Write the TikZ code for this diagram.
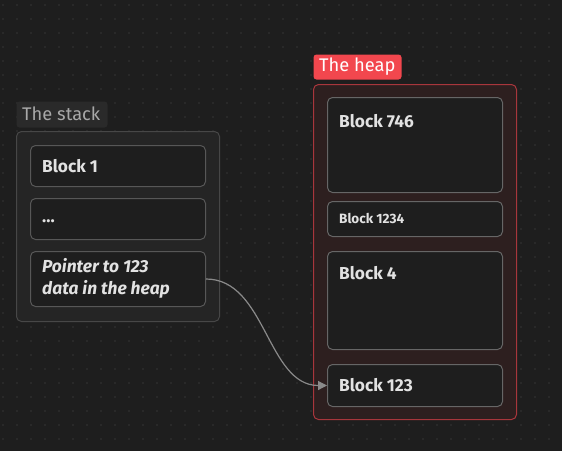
\documentclass[tikz,border=0pt]{standalone}
\usepackage{fontspec}
\setmainfont{Fira Sans}
\usetikzlibrary{arrows.meta}
\definecolor{bgc}{HTML}{1E1E1E}
\definecolor{dotc}{HTML}{363636}
\definecolor{stitlefill}{HTML}{2A2A2A}
\definecolor{stitletext}{HTML}{A8A8A8}
\definecolor{sfill}{HTML}{252525}
\definecolor{sborder}{HTML}{474747}
\definecolor{blkfill}{HTML}{1E1E1E}
\definecolor{blkborder}{HTML}{575757}
\definecolor{hblkborder}{HTML}{666666}
\definecolor{blktext}{HTML}{E2E2E2}
\definecolor{htitlefill}{HTML}{F2474E}
\definecolor{hfill}{HTML}{2D1F1F}
\definecolor{hborder}{HTML}{A8363C}
\definecolor{arrc}{HTML}{8A8A8A}
\tikzset{
  box/.style={anchor=north west, inner sep=0pt, rounded corners=5pt, line width=1pt},
  blk/.style={box, draw=blkborder, fill=blkfill, minimum width=175pt},
  hblk/.style={blk, draw=hblkborder},
  lbl/.style={anchor=west, inner sep=0pt, text=blktext, font=\fontsize{17.3}{20}\selectfont\bfseries},
  smalllbl/.style={lbl, font=\fontsize{13.5}{16}\selectfont\bfseries},
  conn/.style={draw=arrc, line width=1.2pt, -{Triangle[length=9pt,width=9pt]}},
}
\begin{document}
\begin{tikzpicture}[x=1pt,y=-1pt]
\useasboundingbox (0,0) rectangle (562,451);
\fill[bgc] (0,0) rectangle (562,451);
\foreach \i in {0,...,40} {
  \foreach \j in {0,...,32} {
    \fill[dotc] (3+\i*14,5+\j*14) circle (0.8pt);
  }
}
% stack
\node[box, fill=stitlefill, rounded corners=3pt, minimum width=91pt, minimum height=26pt] (stitle) at (16,101) {};
\node[anchor=west, inner sep=0pt, text=stitletext, font=\fontsize{18.3}{21}\selectfont] (stitletxt) at (22,114) {The stack};
\node[box, draw=sborder, fill=sfill, minimum width=203pt, minimum height=190pt] (stack) at (16,131) {};
\node[blk, minimum height=41pt] (b1) at (30,145) {};
\node[lbl] (b1t) at (42,166) {Block 1};
\node[blk, minimum height=41pt] (dots) at (30,198) {};
\node[lbl] (dotst) at (42,221) {...};
\node[blk, minimum height=55pt] (ptr) at (30,251) {};
\node[lbl, anchor=north west, align=left, font=\fontsize{17.4}{22}\selectfont\bfseries\itshape] (ptrt) at (42,258) {Pointer to 123\\data in the heap};
% heap
\node[box, fill=htitlefill, rounded corners=3pt, minimum width=88pt, minimum height=25pt] (htitle) at (313,54) {};
\node[anchor=west, inner sep=0pt, text=white, font=\fontsize{18.3}{21}\selectfont] (htitletxt) at (319,67) {The heap};
\node[box, draw=hborder, fill=hfill, minimum width=203pt, minimum height=335pt] (heap) at (313,84) {};
\node[hblk, minimum height=95pt] (b746) at (327,97) {};
\node[lbl] (b746t) at (339,121) {Block 746};
\node[hblk, minimum height=35pt] (b1234) at (327,201) {};
\node[smalllbl] (b1234t) at (339,218.5) {Block 1234};
\node[hblk, minimum height=98pt] (b4) at (327,251) {};
\node[lbl] (b4t) at (339,273) {Block 4};
\node[hblk, minimum height=42pt] (b123) at (327,364) {};
\node[lbl] (b123t) at (339,385) {Block 123};
% connector
\draw[conn] (ptr.east) .. controls +(60,0) and +(-60,0) .. (b123.west);
\end{tikzpicture}
\end{document}
